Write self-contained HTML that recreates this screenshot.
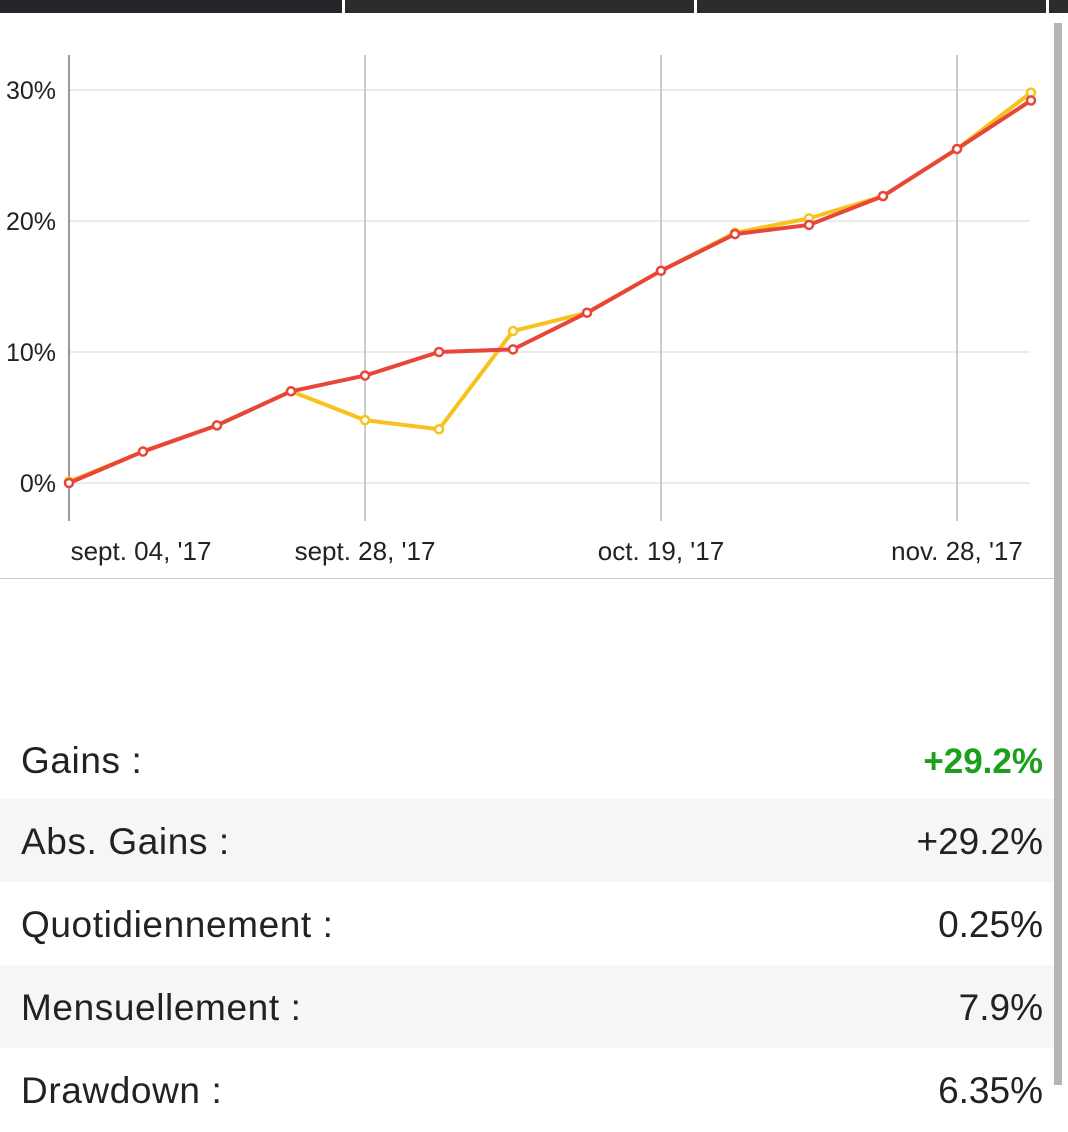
<!DOCTYPE html>
<html><head><meta charset="utf-8"><style>
body{margin:0;width:1068px;height:1132px;background:#fff;position:relative;overflow:hidden;font-family:"Liberation Sans",sans-serif;}
.tab{position:absolute;top:0;height:13px;background:#252429;}
.row{position:absolute;left:0;width:1054px;height:83px;font-size:37px;color:#222;}
.row span{position:absolute;top:22px;}
.row .l{left:21px;letter-spacing:0.6px}.row .v{right:11px}
</style></head><body>
<div class="tab" style="left:0;width:342px"></div>
<div class="tab" style="left:345px;width:349px;background:#2c2c2e"></div>
<div class="tab" style="left:697px;width:349px;background:#2c2c2e"></div>
<div class="tab" style="left:1049px;width:19px;background:#2c2c2e"></div>
<div style="position:absolute;left:1054px;top:23px;width:8px;height:1062px;background:#b5b5b5"></div>
<svg id="chart" width="1054" height="580" style="position:absolute;left:0;top:0"></svg>
<div style="position:absolute;left:0;top:578px;width:1054px;height:1px;background:#ccc"></div>
<div class="row" style="top:718px"><span class="l">Gains :</span><span class="v" style="color:#1aa01a;font-weight:bold;font-size:35px;top:24px">+29.2%</span></div>
<div class="row" style="top:799px;background:#f6f6f6"><span class="l">Abs. Gains :</span><span class="v">+29.2%</span></div>
<div class="row" style="top:882px"><span class="l">Quotidiennement :</span><span class="v">0.25%</span></div>
<div class="row" style="top:965px;background:#f6f6f6"><span class="l">Mensuellement :</span><span class="v">7.9%</span></div>
<div class="row" style="top:1048px"><span class="l">Drawdown :</span><span class="v">6.35%</span></div>
<script>
const redValues=[0,2.4,4.4,7.0,8.2,10.0,10.2,13.0,16.2,19.0,19.7,21.9,25.5,29.2];
const yellowValues=[0.1,2.4,4.4,7.0,4.8,4.1,11.6,13.0,16.2,19.1,20.2,21.9,25.5,29.8];
const yTicks=[0,10,20,30];
const xTickIdx=[0,4,8,12];
const xTickLabels=["sept. 04, '17","sept. 28, '17","oct. 19, '17","nov. 28, '17"];
const svg=document.getElementById('chart');const NS='http://www.w3.org/2000/svg';
const x=i=>69+i*74, y=v=>483-v*13.1;
function mk(t,a){const e=document.createElementNS(NS,t);for(const k in a)e.setAttribute(k,a[k]);svg.appendChild(e);return e;}
yTicks.forEach(t=>{
 const l=mk('line',{x1:69,x2:1030,y1:y(t),y2:y(t),stroke:'#ebebeb','stroke-width':2});
 
 const tx=mk('text',{x:56,y:y(t)+9,'text-anchor':'end','font-size':25,fill:'#222','font-family':'Liberation Sans'});
 tx.textContent=t+'%';
});
xTickIdx.forEach((i,k)=>{
 const l=mk('line',{x1:x(i),x2:x(i),y1:55,y2:521,stroke:i===0?'#999':'#ccc','stroke-width':2});
 
 const tx=mk('text',{x:i===0?x(i)+72:x(i),y:560,'text-anchor':'middle','font-size':26,fill:'#222','font-family':'Liberation Sans'});
 tx.textContent=xTickLabels[k];
});
[[yellowValues,'#f8c21c','yellow'],[redValues,'#e8463a','red']].forEach(([vals,c,n])=>{
 const p=mk('polyline',{points:vals.map((v,i)=>x(i)+','+y(v)).join(' '),fill:'none',stroke:c,'stroke-width':4,'stroke-linejoin':'round'});
 
 vals.forEach((v,i)=>{const d=mk('circle',{cx:x(i),cy:y(v),r:4,fill:'#fff',stroke:c,'stroke-width':2.5});
 });
});
</script>
</body></html>
